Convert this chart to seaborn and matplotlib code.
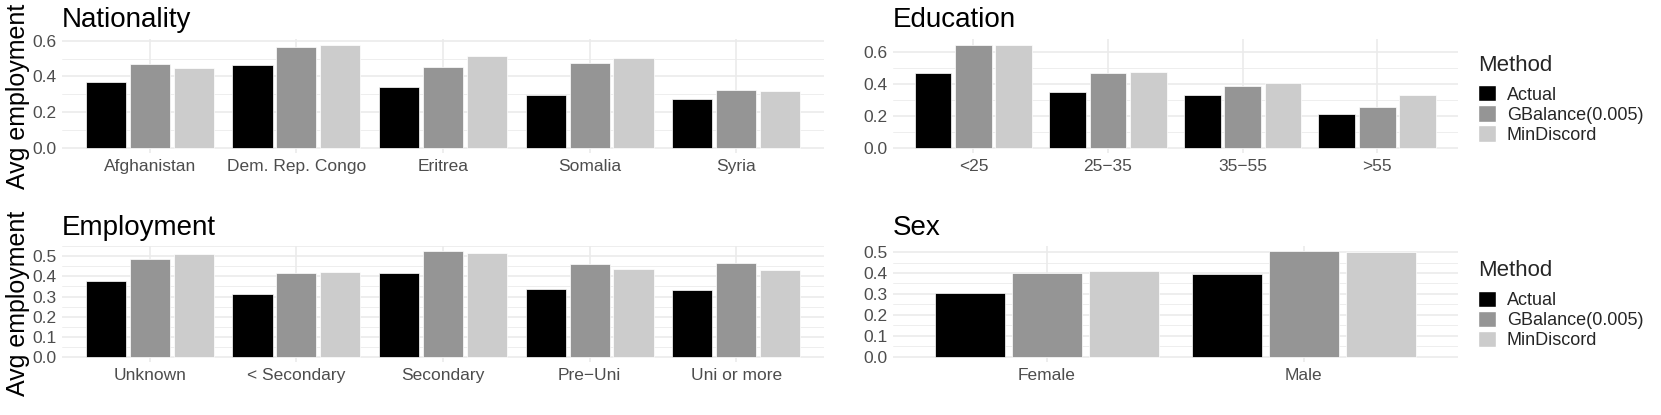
import numpy as np
import pandas as pd
import matplotlib
matplotlib.use("Agg")
import matplotlib.pyplot as plt
import seaborn as sns
from matplotlib.patches import Patch
from matplotlib.ticker import MultipleLocator, FormatStrFormatter

methods = ["Actual", "GBalance(0.005)", "MinDiscord"]
colors = ["#000000", "#959595", "#CCCCCC"]

nat_cats = ["Afghanistan", "Dem. Rep. Congo", "Eritrea", "Somalia", "Syria"]
nat_actual = [0.369, 0.465, 0.341, 0.296, 0.274]
nat_gbal = [0.469, 0.564, 0.453, 0.476, 0.323]
nat_mind = [0.447, 0.577, 0.513, 0.502, 0.321]

edu_cats = ["<25", "25\u221235", "35\u221255", ">55"]
edu_actual = [0.466, 0.351, 0.334, 0.212]
edu_gbal = [0.643, 0.468, 0.390, 0.260]
edu_mind = [0.645, 0.476, 0.408, 0.332]

emp_cats = ["Unknown", "< Secondary", "Secondary", "Pre\u2212Uni", "Uni or more"]
emp_actual = [0.376, 0.314, 0.419, 0.336, 0.332]
emp_gbal = [0.487, 0.418, 0.527, 0.460, 0.466]
emp_mind = [0.512, 0.423, 0.515, 0.438, 0.430]

sex_cats = ["Female", "Male"]
sex_actual = [0.305, 0.395]
sex_gbal = [0.400, 0.505]
sex_mind = [0.411, 0.502]

sns.set_theme(style="white")
plt.rcParams["font.family"] = ["Liberation Sans", "DejaVu Sans"]

W, H = 1661, 415
fig = plt.figure(figsize=(W / 100, H / 100), dpi=100)


def px_axes(l, t, r, b):
    return fig.add_axes([l / W, 1 - b / H, (r - l) / W, (b - t) / H])


def panel(ax, cats, a, g, m, title, step, title_pad):
    df = pd.DataFrame({
        "cat": cats * 3,
        "Method": np.repeat(methods, len(cats)),
        "val": list(a) + list(g) + list(m),
    })
    sns.barplot(data=df, x="cat", y="val", hue="Method", order=cats,
                hue_order=methods, palette=colors, width=0.9, gap=0.09,
                edgecolor="white", linewidth=0.5, legend=False, ax=ax,
                errorbar=None)
    n = len(cats)
    ax.set_xlim(-0.6, n - 0.4)
    vmax = max(list(a) + list(g) + list(m))
    ax.set_ylim(-0.05 * vmax, 1.05 * vmax)
    ax.yaxis.set_major_locator(MultipleLocator(step))
    ax.yaxis.set_minor_locator(MultipleLocator(step / 2))
    ax.yaxis.set_major_formatter(FormatStrFormatter("%.1f"))
    ax.grid(which="major", color="#EBEBEB", lw=1.2)
    ax.grid(which="minor", axis="y", color="#EBEBEB", lw=0.6)
    ax.set_axisbelow(True)
    for s in ax.spines.values():
        s.set_visible(False)
    ax.tick_params(which="both", length=0, labelsize=12.5, labelcolor="#4D4D4D")
    ax.tick_params(axis="y", pad=3.8)
    ax.tick_params(axis="x", pad=4)
    ax.set_xlabel("")
    ax.set_ylabel("")
    ax.set_title(title, loc="left", fontsize=20, pad=title_pad, color="black")


ax1 = px_axes(62, 39.5, 824, 153.5)
ax2 = px_axes(892.7, 39.5, 1458, 153.5)
ax3 = px_axes(62, 245.7, 824, 362)
ax4 = px_axes(892.7, 245.7, 1458, 362)

panel(ax1, nat_cats, nat_actual, nat_gbal, nat_mind, "Nationality", 0.2, 9.2)
panel(ax2, edu_cats, edu_actual, edu_gbal, edu_mind, "Education", 0.2, 9.2)
panel(ax3, emp_cats, emp_actual, emp_gbal, emp_mind, "Employment", 0.1, 7.7)
panel(ax4, sex_cats, sex_actual, sex_gbal, sex_mind, "Sex", 0.1, 7.7)

for yc in [(39.5 + 153.5) / 2, (245.7 + 362) / 2]:
    fig.text(18.5 / W, 1 - yc / H, "Avg employment", rotation=90,
             va="center", ha="center", fontsize=18, color="black")

for ax, top in [(ax2, 55), (ax4, 260.5)]:
    handles = [Patch(facecolor=c, edgecolor="white", lw=1) for c in colors]
    leg = ax.legend(handles, methods, title="Method", loc="upper left",
                    bbox_to_anchor=(1478 / W, 1 - top / H),
                    bbox_transform=fig.transFigure, frameon=False, fontsize=13,
                    title_fontsize=16, handlelength=1.0, handleheight=1.0,
                    handletextpad=0.6, labelspacing=0.1, borderpad=0,
                    borderaxespad=0, alignment="left")
    leg._legend_box.sep = 6.7

fig.savefig("out.png", dpi=100, facecolor="white")
